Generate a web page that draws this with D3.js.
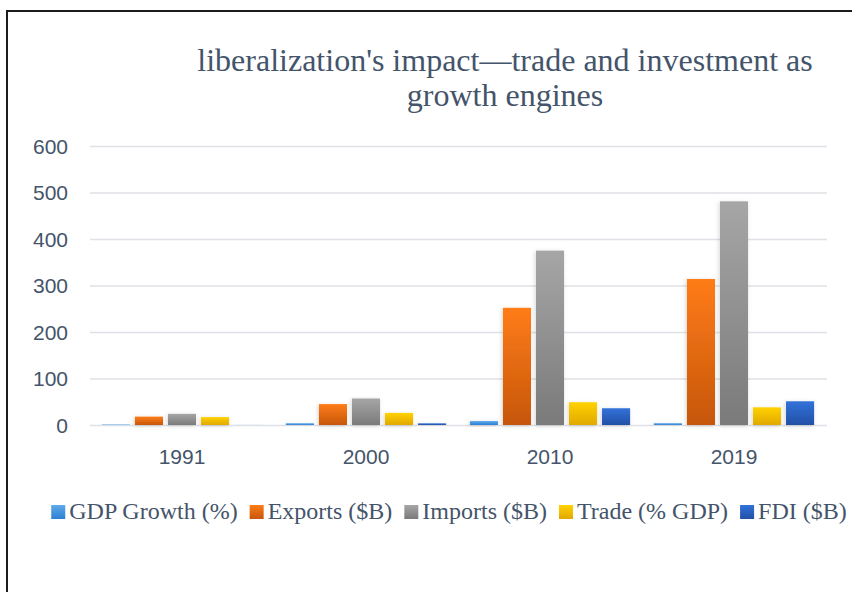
<!DOCTYPE html>
<html>
<head>
<meta charset="utf-8">
<script src="https://cdn.jsdelivr.net/npm/d3@7"></script>
<style>
  body { margin: 0; background: #fff; }
  svg { display: block; }
</style>
</head>
<body>
<svg class="chart_svg"></svg>
<script>
// chart data
var years = ["1991", "2000", "2010", "2019"];
var series = ["GDP Growth (%)", "Exports ($B)", "Imports ($B)", "Trade (% GDP)", "FDI ($B)"];
var gdpGrowth = [1.1, 3.8, 8.5, 3.9];
var exportsB = [18, 45, 252, 314];
var importsB = [24, 57, 375, 481];
var tradeGdp = [17, 26, 49, 38];
var fdiB = [0.1, 3.6, 36, 51];
var yTicks = [0, 100, 200, 300, 400, 500, 600];

var values = [gdpGrowth, exportsB, importsB, tradeGdp, fdiB];
var grads = [
  ["#5eaaec", "#2f7fd2"],
  ["#ff7c14", "#c6560f"],
  ["#a6a6a6", "#7a7a7a"],
  ["#ffd200", "#e1a800"],
  ["#3272da", "#2350a6"]
];

var W = 852, H = 592;
var textColor = "#44546a";

var svg = d3.select(".chart_svg").attr("width", W).attr("height", H);
var defs = svg.append("defs");

// gradients for bars
grads.forEach(function(g, i) {
  var lg = defs.append("linearGradient").attr("id", "grad" + i)
    .attr("x1", 0).attr("y1", 0).attr("x2", 0).attr("y2", 1);
  lg.append("stop").attr("offset", "0%").attr("stop-color", g[0]);
  lg.append("stop").attr("offset", "100%").attr("stop-color", g[1]);
});

// soft shadow
var f = defs.append("filter").attr("id", "shadow")
  .attr("x", "-30%").attr("y", "-30%").attr("width", "160%").attr("height", "160%");
f.append("feDropShadow").attr("dx", -1).attr("dy", 1).attr("stdDeviation", 2)
  .attr("flood-color", "#000").attr("flood-opacity", 0.16);

// frame
svg.append("path")
  .attr("d", "M7,592 L7,11 L852,11")
  .attr("fill", "none").attr("stroke", "#1c1c1c").attr("stroke-width", 2);

// title
var title = svg.append("text")
  .attr("text-anchor", "middle")
  .style("font-family", "'Liberation Serif', 'Times New Roman', serif")
  .style("font-size", "32px")
  .attr("fill", textColor);
title.append("tspan").attr("x", 505).attr("y", 71).text("liberalization's impact\u2014trade and investment as");
title.append("tspan").attr("x", 505).attr("y", 106).text("growth engines");

// scales
var x0 = d3.scaleBand().domain(years).range([90, 826]);
var x1 = d3.scaleBand().domain(series).range([0, x0.bandwidth()]).paddingInner(0.15).paddingOuter(0.36);
var y = d3.scaleLinear().domain([0, 600]).range([425, 146]);

// gridlines + Y-axis labels
var yAxis = svg.append("g")
  .call(d3.axisLeft(y).tickValues(yTicks).tickSize(0).tickPadding(0));
yAxis.select(".domain").remove();
yAxis.selectAll(".tick line")
  .attr("x1", 90).attr("x2", 827)
  .attr("stroke", "#dfe1e6").attr("stroke-width", 1.6);
yAxis.selectAll(".tick text")
  .attr("x", 68).attr("dy", "0.35em")
  .attr("fill", textColor)
  .style("font-family", "'Liberation Sans', Arial, sans-serif")
  .style("font-size", "21px");

// X-axis labels
var xAxis = svg.append("g").attr("transform", "translate(0, 425)")
  .call(d3.axisBottom(x0).tickSize(0).tickPadding(0));
xAxis.select(".domain").remove();
xAxis.selectAll(".tick text")
  .attr("y", 39).attr("dy", 0)
  .attr("fill", textColor)
  .style("font-family", "'Liberation Sans', Arial, sans-serif")
  .style("font-size", "21px");

// bars
var groups = svg.append("g").selectAll("g").data(years).join("g")
  .attr("transform", d => `translate(${x0(d)}, 0)`);
groups.selectAll("rect")
  .data((d, yi) => series.map((s, si) => ({ s: s, si: si, v: values[si][yi] })))
  .join("rect")
  .attr("x", d => x1(d.s))
  .attr("width", x1.bandwidth())
  .attr("y", d => y(d.v))
  .attr("height", d => y(0) - y(d.v))
  .attr("fill", d => `url(#grad${d.si})`)
  .attr("filter", "url(#shadow)");

// legend
var legend = svg.append("g");
var items = legend.selectAll("g").data(series).join("g");
items.append("rect")
  .attr("width", 14).attr("height", 14).attr("y", -14)
  .attr("fill", (d, i) => `url(#grad${i})`);
items.append("text")
  .attr("x", 18).attr("y", 0)
  .attr("fill", textColor)
  .style("font-family", "'Liberation Serif', 'Times New Roman', serif")
  .style("font-size", "24px")
  .text(d => d);
var gap = 12, pos = 0, offs = [];
items.each(function() {
  offs.push(pos);
  pos += 18 + this.querySelector("text").getComputedTextLength() + gap;
});
var total = pos - gap;
var lx = 449 - total / 2;
items.attr("transform", (d, i) => `translate(${lx + offs[i]}, 519)`);
</script>
</body>
</html>
